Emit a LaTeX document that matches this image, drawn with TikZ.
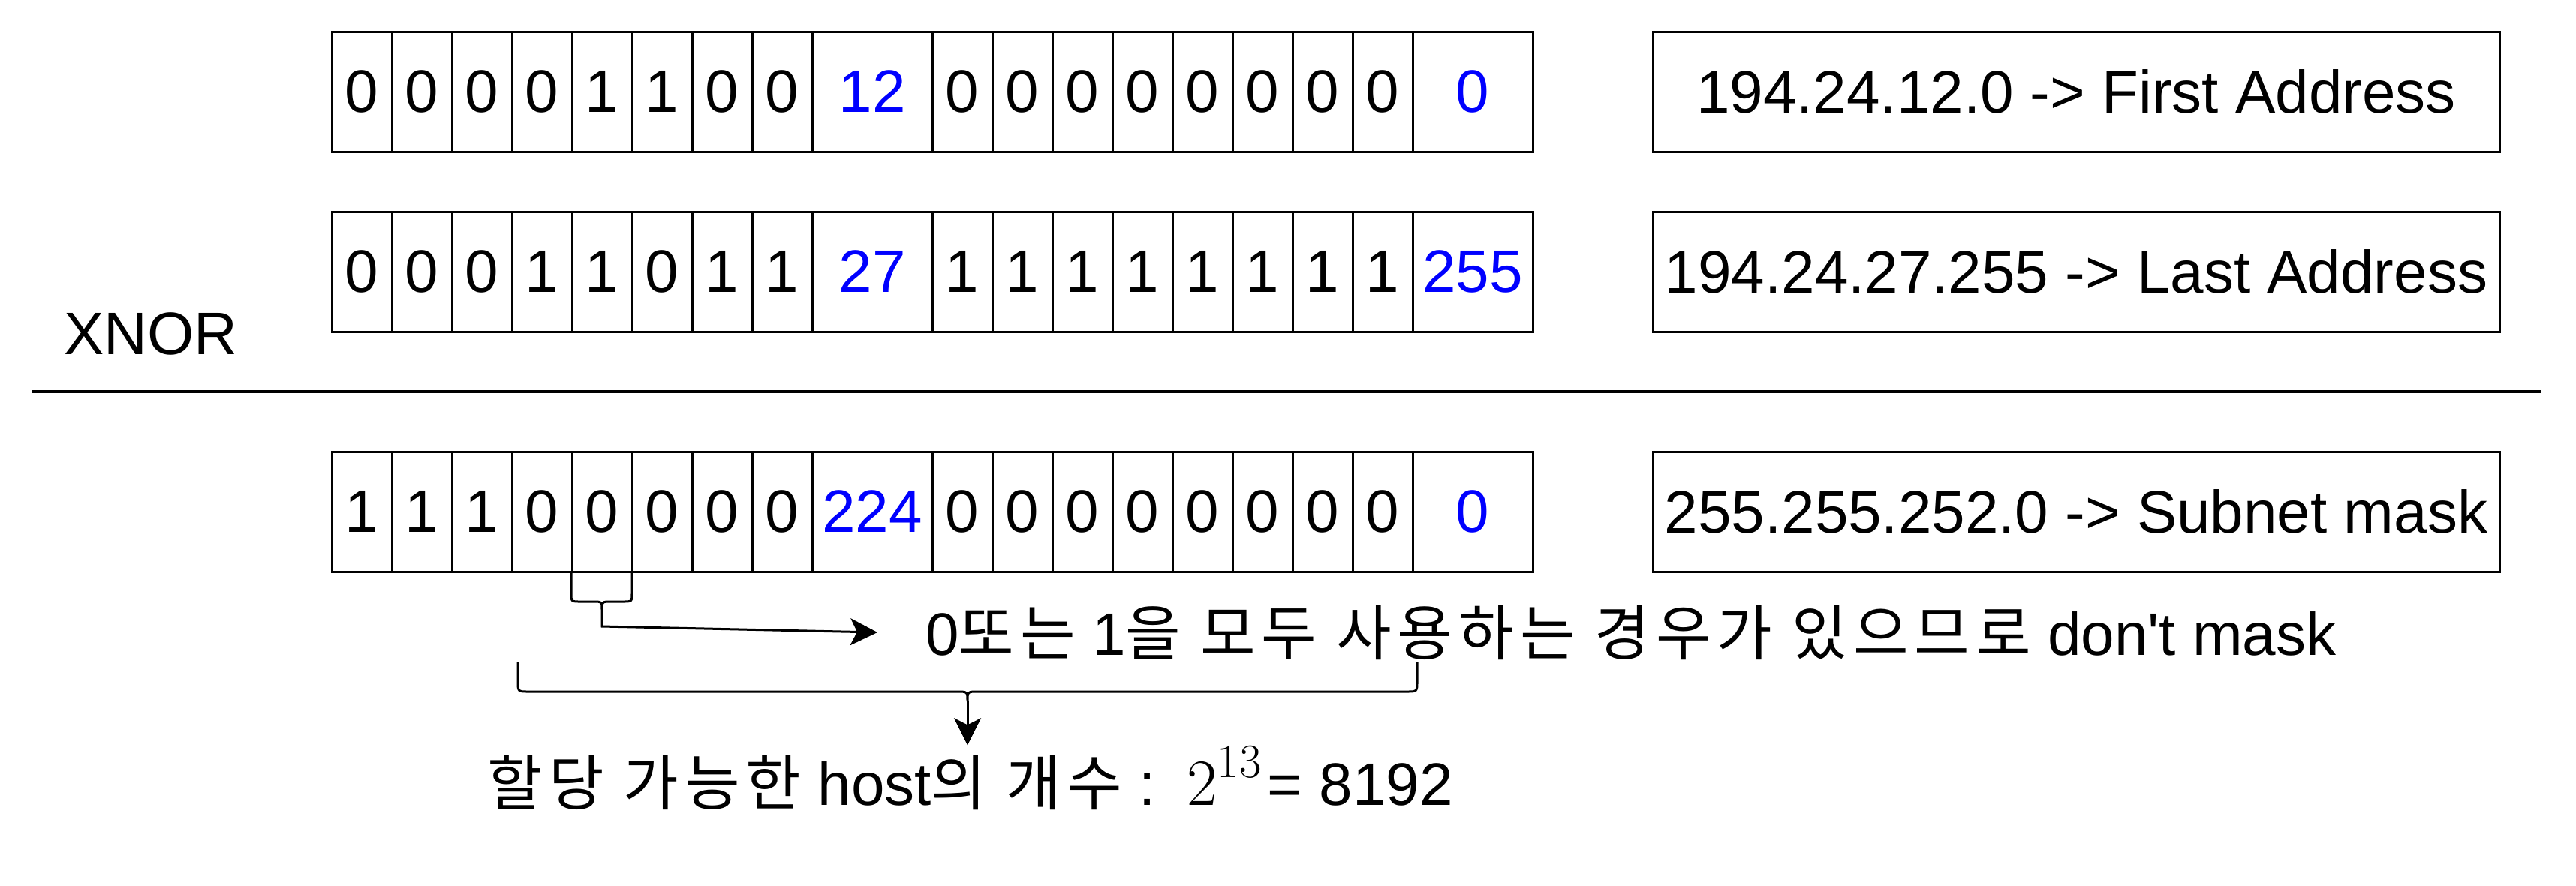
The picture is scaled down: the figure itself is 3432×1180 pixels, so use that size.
\documentclass[tikz,border=0pt]{standalone}
\usepackage{fontspec}
\newfontfamily\arial[Ligatures=TeXOff]{Liberation Sans}
\newfontfamily\kr[LetterSpace=10]{Noto Sans CJK KR}
\newfontfamily\lmr{Latin Modern Roman}
\usetikzlibrary{arrows.meta}
\definecolor{ablue}{RGB}{0,0,255}
\tikzset{
  every node/.style={font=\arial\fontsize{40}{48}\selectfont, inner sep=0pt},
  bit/.style={draw, line width=1.5pt, minimum width=40pt, minimum height=80pt},
  wide/.style={bit, minimum width=80pt, text=ablue},
  lbl/.style={draw, line width=1.5pt, minimum width=564pt, minimum height=80pt},
  txt/.style={anchor=base west},
  brace/.style={line width=1.5pt},
  arr/.style={line width=1.5pt, -{Stealth[length=18pt,width=18pt,inset=4.5pt]}},
  sepline/.style={line width=1.8pt}
}
\newcommand\bitrow[7]{%
  \foreach \v [count=\i] in {#3} \node[bit] (#1\i) at ({402+80*\i},#2) {\v};
  \node[wide] (#1o3) at (1162,#2) {#4};
  \foreach \v [count=\i] in {#5} \node[bit] (#1b\i) at ({1202+80*\i},#2) {\v};
  \node[wide] (#1o4) at (1962,#2) {#6};
  \node[lbl] (#1lbl) at (2766,#2) {#7};
}
\newcommand\twopow{\hspace{6pt}{\lmr\fontsize{44}{48}\selectfont 2\raisebox{18.5pt}{\fontsize{32}{34}\selectfont 13}}\hspace{4pt}}
\begin{document}
\begin{tikzpicture}[x=0.5pt,y=-0.5pt]
\useasboundingbox (0,0) rectangle (3432,1180);
\fill[white] (0,0) rectangle (3432,1180);

\bitrow{r1}{122}{0,0,0,0,1,1,0,0}{12}{0,0,0,0,0,0,0,0}{0}{194.24.12.0 -> First Address}
\bitrow{r2}{362}{0,0,0,1,1,0,1,1}{27}{1,1,1,1,1,1,1,1}{255}{194.24.27.255 -> Last Address}
\bitrow{r3}{682}{1,1,1,0,0,0,0,0}{224}{0,0,0,0,0,0,0,0}{0}{255.255.252.0 -> Subnet mask}

\node[txt] (xnor) at (85,472) {XNOR};

\coordinate (sepL) at (42,522);
\coordinate (sepR) at (3386,522);
\draw[sepline] (sepL) -- (sepR);

% small brace under the 5th bit of the mask
\coordinate (tip1) at (802,814);
\draw[brace] (761,762) -- (761,790) .. controls (761,802) .. (773,802) -- (790,802)
  .. controls (802,802) .. (tip1) .. controls (802,802) .. (814,802) -- (830,802)
  .. controls (842,802) .. (842,790) -- (842,762);

% large brace
\coordinate (tip2) at (1289,935);
\draw[brace] (690,882) -- (690,908) .. controls (690,922) .. (704,922) -- (1275,922)
  .. controls (1289,922) .. (tip2) .. controls (1289,922) .. (1303,922) -- (1874,922)
  .. controls (1888,922) .. (1888,908) -- (1888,882);

\node[txt] (note) at (1233,873) {0{\kr 또는} 1{\kr 을 모두 사용하는 경우가 있으므로} don't mask};
\node[txt] (hosts) at (649,1073) {{\kr 할당 가능한} host{\kr 의 개수} : \twopow= 8192};

\draw[arr] (tip1) -- ++(0,21) -- ([xshift=-32pt]note.west);
\draw[arr] (tip2) -- (tip2 |- hosts.north);
\end{tikzpicture}
\end{document}
